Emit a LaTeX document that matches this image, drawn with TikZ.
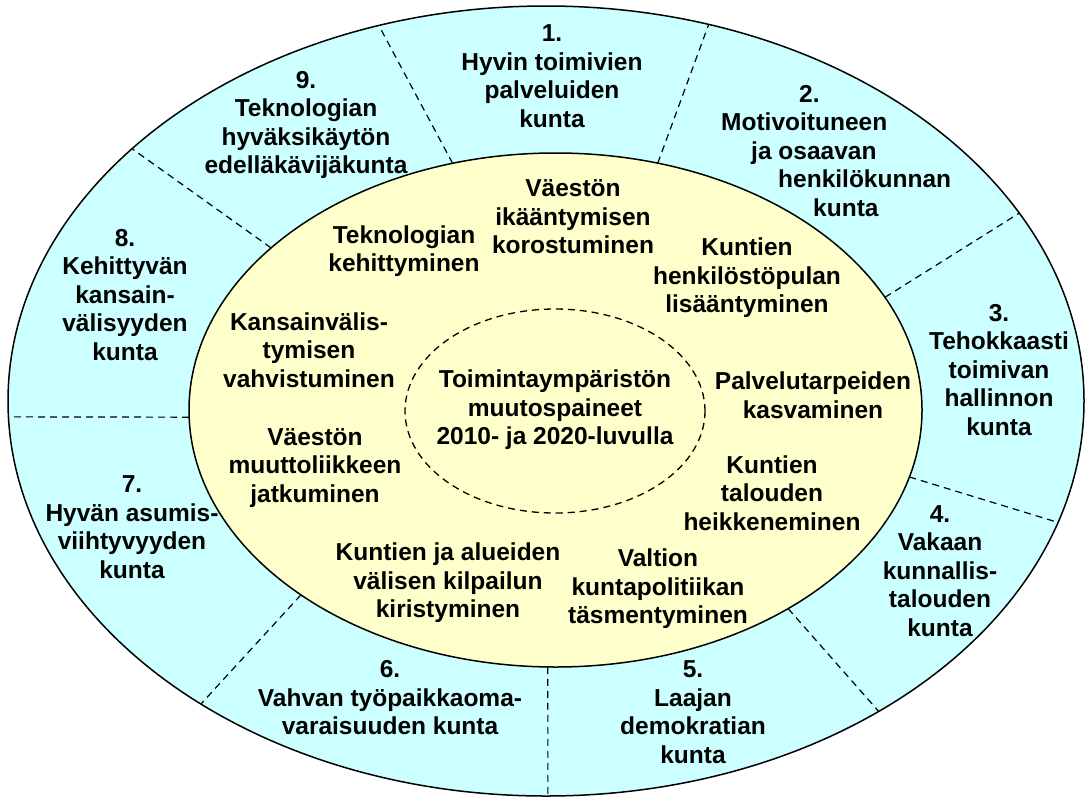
\documentclass[tikz,border=0pt]{standalone}
\usepackage{fontspec}
\setmainfont{Liberation Sans}
\definecolor{ringcyan}{RGB}{204,255,255}
\definecolor{coreyellow}{RGB}{255,255,204}
\begin{document}
\begin{tikzpicture}[x=1pt,y=-1pt,
  lbl/.style={font=\fontsize{24.5}{28.5}\selectfont\bfseries, align=center, inner sep=0pt},
  spoke/.style={dash pattern=on 7pt off 5pt, line width=1.2pt},
  rim/.style={line width=1.5pt}]
\useasboundingbox (0,0) rectangle (1086,798);
% ellipses
\coordinate (oc) at (546,401);
\coordinate (ic) at (555.5,410);
\draw[rim, fill=ringcyan] (oc) ellipse [x radius=538, y radius=395];
\draw[rim, fill=coreyellow] (ic) ellipse [x radius=366.5, y radius=257];
\draw[dash pattern=on 7pt off 5pt, line width=1.3pt] (555,411) ellipse [x radius=150, y radius=102];
% spoke end points
\foreach \n/\to/\ti in {a/-108.1/-106.3, b/-140.3/-140.9, c/-72.4/-73.8, d/-28.4/-26.0,
                        e/177.7/178.4, f/129.9/134, g/17.9/15.1, h/51.8/50.6, k/89.8/91.2}{
  \coordinate (o\n) at ({546+538*cos(\to)},{401+395*sin(\to)});
  \coordinate (i\n) at ({555.5+366.5*cos(\ti)},{410+257*sin(\ti)});
}
\foreach \n in {a,b,c,d,e,f,g,h,k}{\draw[spoke] (i\n) -- (o\n);}
% outer labels
\node[lbl] (l1) at (552,76) {1.\\Hyvin toimivien\\palveluiden\\kunta};
\node[lbl, align=left, anchor=west] (l2) at (721,151) {\hspace*{78pt}2.\\Motivoituneen\\\hspace*{30pt}ja osaavan\\\hspace*{57pt}henkilökunnan\\\hspace*{92pt}kunta};
\node[lbl] (l3) at (999,370) {3.\\Tehokkaasti\\toimivan\\hallinnon\\kunta};
\node[lbl] (l4) at (940,571) {4.\\Vakaan\\kunnallis-\\talouden\\kunta};
\node[lbl] (l5) at (693,712) {5.\\Laajan\\demokratian\\kunta};
\node[lbl] (l6) at (390,698) {6.\\Vahvan työpaikkaoma-\\varaisuuden kunta};
\node[lbl] (l7) at (132,527) {7.\\Hyvän asumis-\\viihtyvyyden\\kunta};
\node[lbl] (l8) at (125,295) {8.\\Kehittyvän\\kansain-\\välisyyden\\kunta};
\node[lbl] (l9) at (306,125) {9.\\Teknologian\\hyväksikäytön\\edelläkävijäkunta};
% inner labels
\node[lbl] (ik) at (573,217) {Väestön\\ikääntymisen\\korostuminen};
\node[lbl] (tek) at (404,251) {Teknologian\\kehittyminen};
\node[lbl] (hen) at (747,278) {Kuntien\\henkilöstöpulan\\lisääntyminen};
\node[lbl] (kv) at (309,350) {Kansainvälis-\\tymisen\\vahvistuminen};
\node[lbl] (mid) at (555,410) {Toimintaympäristön\\muutospaineet\\2010- ja 2020-luvulla};
\node[lbl] (pal) at (813,395) {Palvelutarpeiden\\kasvaminen};
\node[lbl] (tal) at (772,493) {Kuntien\\talouden\\heikkeneminen};
\node[lbl] (val) at (658,589) {Valtion\\kuntapolitiikan\\täsmentyminen};
\node[lbl] (muu) at (315,468) {Väestön\\muuttoliikkeen\\jatkuminen};
\node[lbl] (kil) at (448,583) {Kuntien ja alueiden\\välisen kilpailun\\kiristyminen};
\end{tikzpicture}
\end{document}
